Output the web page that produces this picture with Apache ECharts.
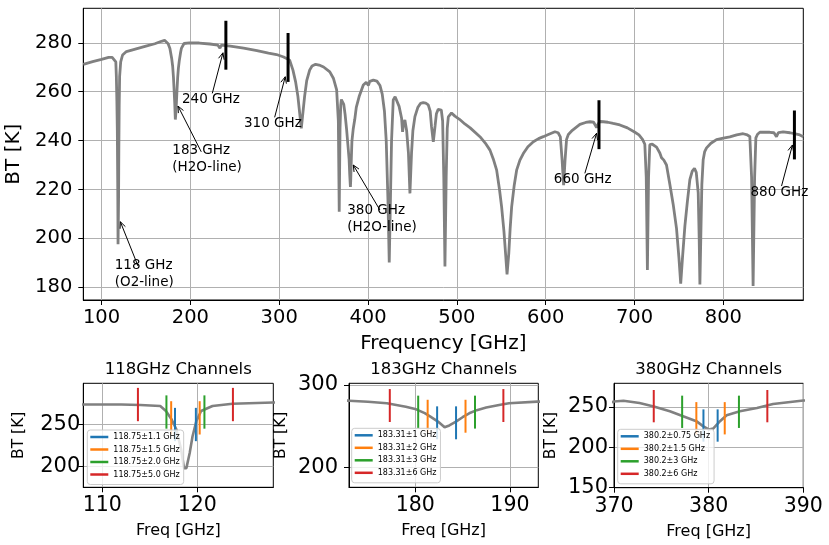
<!DOCTYPE html>
<html>
<head>
<meta charset="utf-8">
<script src="https://cdn.jsdelivr.net/npm/echarts@6/dist/echarts.min.js"></script>
<style>
html, body { margin: 0; padding: 0; background: #fff; }
#chart { width: 829px; height: 545px; }
</style>
</head>
<body>
<div id="chart"></div>
<script>
// brightness temperature spectrum (GHz, K)
var freq = [79.5, 90, 100, 108, 112, 114, 116.1, 116.7, 117.3, 117.8, 118.3, 118.6, 118.85, 119.2, 119.5, 119.9, 120.4, 121.6, 123.7, 128,
	140, 150, 160, 167.5, 171, 173, 175, 177, 179, 180.1, 181, 181.6, 182.4, 183.1, 183.6, 184.3, 185, 185.7, 186.5, 187.5, 189, 189.9, 192.9,
	199, 210, 222, 231, 233.3, 235, 245, 260, 275, 288, 297, 305, 311.8, 315.5, 318.5, 321.1, 324.9, 328.6, 331, 334.3, 337, 341, 345, 350,
	357, 361, 364.7, 366.6, 367.6, 368.5, 369.3, 370, 371, 372.7, 374.2, 375.9, 377.3, 378.7, 379.4, 380, 380.2, 380.5, 381.2, 381.9, 383.3,
	385.1, 386.8, 390, 394.7, 398, 400.5, 402, 406, 410, 413.5, 416, 418.5, 420.5, 422.5, 423.9, 425.2, 426.5, 428.4, 430.5, 432.2, 435,
	437.8, 438.9, 440, 441.5, 443.5, 445.5, 447.2, 449, 450.5, 452.8, 456, 459, 462.2, 465, 467.8, 470, 471.5, 473.5, 475.5, 477, 479,
	480.9, 482.5, 484, 485.3, 486.6, 488, 489.2, 490.4, 494, 497.8, 503, 509, 515, 526, 532, 537.3, 541, 544.8, 548, 550.4, 553, 555,
	556.5, 558.5, 560, 561.7, 564.5, 567.3, 571, 574.8, 580, 586.1, 592, 597.3, 603, 610.4, 614, 616.5, 618.5, 620.2, 621.8, 623.5, 625.5,
	630, 638.5, 645, 650, 654, 657.3, 659, 661, 665, 670, 676, 683.5, 692, 700, 705, 709, 711.6, 713.2, 714.5, 715.8, 717.2, 720, 724.8,
	728.5, 730.4, 733, 736, 739.8, 743.5, 747.3, 750, 752, 754, 756.7, 759.5, 762.3, 765, 767.5, 769.5, 771.7, 772.8, 773.6, 774.6, 775.8,
	777.3, 779, 781.1, 786, 792.3, 800, 807.3, 815, 822.3, 827, 829.8, 831.8, 833.5, 835.2, 836.6, 838.5, 841.1, 847, 852.3, 857, 859.8,
	862, 867.3, 875, 880, 886.1, 890];
var bt = [271.2, 272.3, 273.2, 274.0, 274.0, 273.4, 272.2, 266.2, 256.1, 244.0, 219.8, 197.6, 197.6, 215.8, 235.9, 254.0, 266.2, 272.2, 275.0, 276.4,
	277.6, 278.6, 279.6, 280.6, 281.0, 280.9, 279.6, 277.7, 273.6, 270.4, 265.8, 261.5, 255.5, 248.6, 250.8, 255.4, 260.8, 265.6, 269.4, 272.5, 276.0, 277.7, 279.7,
	280.0, 279.9, 279.5, 279.0, 277.8, 279.0, 278.6, 277.8, 276.8, 275.8, 275.2, 274.2, 272.9, 268.8, 264.0, 258.0, 245.0, 258.0, 264.5, 268.8, 270.5, 271.2, 270.9, 270.1,
	268.1, 265.5, 260.7, 248.0, 210.9, 245.0, 254.5, 256.8, 257.6, 254.8, 250.7, 244.6, 238.5, 232.4, 226.3, 222.2, 221.0, 223.4, 232.4, 239.8, 244.6,
	248.7, 253.6, 258.0, 262.7, 263.8, 262.6, 264.2, 264.7, 264.3, 262.5, 259.0, 252.0, 240.0, 215.0, 190.1, 215.0, 240.0, 256.6, 257.9, 257.5, 254.0,
	249.1, 243.6, 247.0, 248.4, 244.0, 235.0, 218.4, 235.0, 244.0, 249.8, 253.5, 255.2, 255.5, 255.3, 254.6, 252.0, 245.7, 239.5, 246.0, 251.0, 252.8,
	253.2, 252.5, 248.0, 225.0, 188.5, 225.0, 245.0, 249.7, 251.3, 250.0, 248.7, 246.8, 245.2, 241.6, 239.0, 236.1, 232.5, 227.9, 220.0, 212.9, 203.0, 193.0,
	185.3, 194.0, 204.0, 212.9, 221.5, 227.9, 232.0, 234.7, 237.5, 239.5, 240.8, 241.6, 242.5, 243.6, 243.2, 241.5, 232.0, 221.8, 232.0, 240.5, 242.5,
	244.2, 246.6, 247.4, 247.7, 247.5, 245.3, 246.8, 247.8, 247.7, 247.5, 247.0, 246.4, 245.2, 243.5, 242.3, 240.5, 238.5, 225.0, 187.1, 225.0, 238.3, 238.5, 237.3,
	234.9, 233.0, 232.0, 230.0, 222.0, 214.0, 204.0, 192.0, 181.5, 192.0, 205.0, 215.0, 224.0, 227.5, 228.6, 227.0, 218.6, 200.0, 181.1, 200.0, 222.0,
	232.2, 235.5, 237.0, 238.9, 240.4, 241.0, 241.5, 242.3, 242.8, 242.3, 241.7, 225.0, 180.5, 225.0, 241.1, 242.6, 243.4, 243.4, 243.4, 243.2, 241.6,
	243.3, 243.6, 243.2, 242.8, 242.3, 241.6];

// instrument bands marked on the spectrum
var markFreq = [240, 310, 660, 880];
var markBT = [279, 274, 246.5, 242.3];

// double sideband channels: centre, offsets, channel BT
var ch118Centre = 118.75;
var ch118Offset = [1.1, 1.5, 2.0, 5.0];
var ch118BT = [250, 258, 265, 274];
var ch118Names = ['118.75±1.1 GHz', '118.75±1.5 GHz', '118.75±2.0 GHz', '118.75±5.0 GHz'];

var ch183Centre = 183.31;
var ch183Offset = [1, 2, 3, 6];
var ch183BT = [254, 262, 267, 275];
var ch183Names = ['183.31±1 GHz', '183.31±2 GHz', '183.31±3 GHz', '183.31±6 GHz'];

var ch380Centre = 380.2;
var ch380Offset = [0.75, 1.5, 3, 6];
var ch380BT = [227, 236, 244, 251];
var ch380Names = ['380.2±0.75 GHz', '380.2±1.5 GHz', '380.2±3 GHz', '380.2±6 GHz'];

var colors = ['#1f77b4', '#ff7f0e', '#2ca02c', '#d62728'];

// annotation labels, with text / arrow tail / arrow head in data coords
var annText = ['118 GHz\n(O2-line)', '183 GHz\n(H2O-line)', '240 GHz', '310 GHz', '380 GHz\n(H2O-line)', '660 GHz', '880 GHz'];
var annPos = [
	[114.9, 185.3, 141.1, 188.7, 121.2, 206.8],
	[179.7, 232.3, 212.3, 235.4, 186.1, 254.1],
	[190.6, 256.9, 224.7, 259.3, 236.7, 275.9],
	[260.4, 247.0, 294.9, 249.5, 306.8, 266.1],
	[376.6, 208.0, 413.4, 211.6, 383.4, 230.0],
	[609.2, 224.2, 644.1, 226.6, 657.3, 243.0],
	[830.6, 218.8, 865.5, 221.4, 877.8, 238.2]
];

var FONT = 'DejaVu Sans';
var spectrum = freq.map(function (f, i) { return [f, bt[i]]; });

function vbar(half, width) {
	return function (params, api) {
		var x = api.value(0), y = api.value(1);
		var p1 = api.coord([x, y - half]);
		var p2 = api.coord([x, y + half]);
		return {
			type: 'line',
			shape: { x1: p1[0], y1: p1[1], x2: p2[0], y2: p2[1] },
			style: { stroke: api.visual('color'), lineWidth: width }
		};
	};
}

function axis(gi, min, max, ticks, fs, margin, name, nameGap, nameSize) {
	return {
		type: 'value', gridIndex: gi, min: min, max: max,
		axisLine: { show: true, onZero: false, lineStyle: { color: '#000', width: 1 } },
		axisTick: { show: true, length: 5, customValues: ticks, lineStyle: { color: '#000' } },
		axisLabel: { customValues: ticks, fontSize: fs, color: '#000', margin: margin, fontFamily: FONT },
		splitLine: { show: true, lineStyle: { color: '#b0b0b0', width: 1 } },
		name: name, nameLocation: 'middle', nameGap: nameGap,
		nameTextStyle: { fontSize: nameSize, color: '#000', fontFamily: FONT }
	};
}

function lineSeries(xi, width) {
	return {
		type: 'line', xAxisIndex: xi, yAxisIndex: xi, data: spectrum,
		showSymbol: false, symbol: 'none', clip: true, z: 2,
		lineStyle: { color: '#808080', width: width }
	};
}

function channelSeries(xi, centre, offsets, values, names) {
	return offsets.map(function (o, k) {
		return {
			type: 'custom', name: names[k], xAxisIndex: xi, yAxisIndex: xi, z: 3,
			itemStyle: { color: colors[k] },
			renderItem: vbar(20, 2),
			data: [[centre - o, values[k]], [centre + o, values[k]]]
		};
	});
}

function legend(left, top, names) {
	return {
		orient: 'vertical', left: left, top: top, selectedMode: false,
		data: names.map(function (n) { return { name: n, icon: 'rect' }; }),
		itemWidth: 18, itemHeight: 2.5, itemGap: 4.5,
		padding: [3, 4, 6, 3],
		backgroundColor: 'rgba(255,255,255,0.8)', borderColor: '#cccccc', borderWidth: 1, borderRadius: 3,
		textStyle: { fontSize: 8, color: '#000', fontFamily: FONT }
	};
}

function title(text, centreX) {
	return {
		text: text, left: centreX, top: 361, textAlign: 'center', padding: 0,
		textStyle: { fontSize: 16.5, fontWeight: 'normal', color: '#000', fontFamily: FONT }
	};
}

var chart = echarts.init(document.getElementById('chart'));

var series = [
	lineSeries(0, 2.8),
	{
		type: 'custom', name: 'bands', xAxisIndex: 0, yAxisIndex: 0, z: 4,
		itemStyle: { color: '#000' },
		renderItem: vbar(10, 3),
		data: markFreq.map(function (f, i) { return [f, markBT[i]]; })
	},
	{
		type: 'custom', name: 'notes', xAxisIndex: 0, yAxisIndex: 0, z: 5,
		data: annPos,
		renderItem: function (params, api) {
			var i = params.dataIndex;
			var t = api.coord([api.value(0), api.value(1)]);
			var a = api.coord([api.value(2), api.value(3)]);
			var h = api.coord([api.value(4), api.value(5)]);
			var ang = Math.atan2(h[1] - a[1], h[0] - a[0]);
			var L = 7, w = 0.42;
			var l1 = [h[0] - L * Math.cos(ang - w), h[1] - L * Math.sin(ang - w)];
			var l2 = [h[0] - L * Math.cos(ang + w), h[1] - L * Math.sin(ang + w)];
			return {
				type: 'group',
				children: [
					{ type: 'line', shape: { x1: a[0], y1: a[1], x2: h[0], y2: h[1] }, style: { stroke: '#000', lineWidth: 1 } },
					{ type: 'polyline', shape: { points: [l1, h, l2] }, style: { stroke: '#000', lineWidth: 1, fill: null } },
					{
						type: 'text', x: t[0], y: t[1],
						style: { text: annText[i], fill: '#000', fontSize: 13.5, fontFamily: FONT, align: 'left', verticalAlign: 'middle', lineHeight: 17 }
					}
				]
			};
		}
	},
	lineSeries(1, 2.6),
	lineSeries(2, 2.6),
	lineSeries(3, 2.6)
].concat(
	channelSeries(1, ch118Centre, ch118Offset, ch118BT, ch118Names),
	channelSeries(2, ch183Centre, ch183Offset, ch183BT, ch183Names),
	channelSeries(3, ch380Centre, ch380Offset, ch380BT, ch380Names)
);

var gridBox = { show: true, borderColor: '#000', borderWidth: 1, containLabel: false, outerBoundsMode: 'none' };

var option = {
	animation: false,
	backgroundColor: '#fff',
	textStyle: { fontFamily: FONT },
	title: [
		title('118GHz Channels', 178.3),
		title('183GHz Channels', 443.7),
		title('380GHz Channels', 708.7)
	],
	grid: [
		Object.assign({ left: 83.3, top: 8.3, width: 720, height: 291.7 }, gridBox),
		Object.assign({ left: 83.3, top: 383.3, width: 190, height: 104 }, gridBox),
		Object.assign({ left: 349, top: 383.3, width: 189.3, height: 104 }, gridBox),
		Object.assign({ left: 614, top: 383.3, width: 189.3, height: 104.4 }, gridBox)
	],
	xAxis: [
		axis(0, 79.5, 890, [100, 200, 300, 400, 500, 600, 700, 800], 19.5, 8, 'Frequency [GHz]', 34, 20),
		axis(1, 108, 128, [110, 120], 20.5, 8, 'Freq [GHz]', 36, 16),
		axis(2, 173, 193, [180, 190], 20.5, 8, 'Freq [GHz]', 36, 16),
		axis(3, 370, 390, [370, 380, 390], 20.5, 8, 'Freq [GHz]', 36, 16)
	],
	yAxis: [
		axis(0, 174.8, 294.1, [180, 200, 220, 240, 260, 280], 19.5, 11, 'BT [K]', 55, 20),
		axis(1, 174.6, 299.5, [200, 250], 21, 3, 'BT [K]', 56, 15.5),
		axis(2, 175.7, 302, [200, 300], 21, 11, 'BT [K]', 60, 15.5),
		axis(3, 150, 279.3, [150, 200, 250], 21, 6, 'BT [K]', 55, 15.5)
	],
	legend: [
		legend(87.3, 430, ch118Names),
		legend(351.7, 428.3, ch183Names),
		legend(617.7, 429.3, ch380Names)
	],
	series: series
};

chart.setOption(option);
</script>
</body>
</html>
